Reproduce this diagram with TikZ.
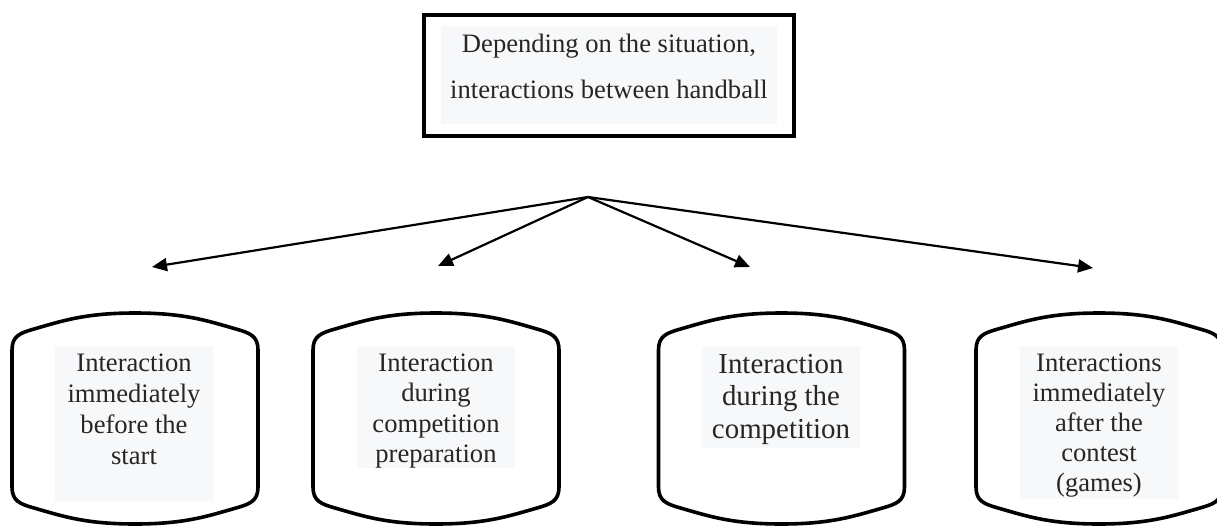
\documentclass[tikz,border=0pt]{standalone}
\usepackage{fontspec}
\setmainfont{Liberation Serif}
\usetikzlibrary{arrows.meta}
\definecolor{shade}{HTML}{F7F8FA}
\definecolor{ink}{HTML}{262626}
\tikzset{
  drum/.pic={
    \path[draw=black, line width=3.6pt, line join=round]
      (-123,350) .. controls (-123,336) and (-115,333) .. (-101,329)
      .. controls (-73,321) and (-50,313) .. (0,313)
      .. controls (50,313) and (73,321) .. (101,329)
      .. controls (115,333) and (123,336) .. (123,350)
      -- (123,487)
      .. controls (123,501) and (115,504) .. (101,508)
      .. controls (73,516) and (50,524) .. (0,524)
      .. controls (-50,524) and (-73,516) .. (-101,508)
      .. controls (-115,504) and (-123,501) .. (-123,487) -- cycle;
  },
  backing/.style={fill=shade, draw=none, inner sep=0pt, anchor=north west},
  words/.style={anchor=base, inner sep=0pt, text=ink},
  link/.style={line width=2.2pt, -{Triangle[length=15pt,width=13pt]}}
}
\newcommand{\txt}[3]{\parbox[t]{400pt}{\centering\fontsize{#1}{#2}\selectfont #3}}
\begin{document}
\begin{tikzpicture}[x=1pt,y=-1pt]
\useasboundingbox (0,0) rectangle (1217,525);
% top box
\node[draw=black, line width=4pt, minimum width=370pt, minimum height=121pt, inner sep=0pt] (top) at (609,75.5) {};
\node[backing, minimum width=336pt, minimum height=98pt] (topbg) at (441,26) {};
\node[words] (toptext) at (609,52) {\txt{26.6}{46}{Depending on the situation,\\interactions between handball}};
% cylinders
\pic (c1) at (135,0) {drum};
\pic (c2) at (436,0) {drum};
\pic (c3) at (781.5,0) {drum};
\pic (c4) at (1099,0) {drum};
% shading behind the texts
\node[backing, minimum width=158pt, minimum height=155pt] (bg1) at (55,346) {};
\node[backing, minimum width=158pt, minimum height=122pt] (bg2) at (357,346) {};
\node[backing, minimum width=158pt, minimum height=102pt] (bg3) at (702,346) {};
\node[backing, minimum width=158pt, minimum height=153pt] (bg4) at (1020,346) {};
% texts
\node[words] (t1) at (134,371) {\txt{26.6}{31}{Interaction\\immediately\\before the\\start}};
\node[words] (t2) at (436,371) {\txt{26.6}{30.5}{Interaction\\during\\competition\\preparation}};
\node[words] (t3) at (781,373) {\txt{28.9}{32.5}{Interaction\\during the\\competition}};
\node[words] (t4) at (1099,371) {\txt{26.6}{30}{Interactions\\immediately\\after the\\contest\\(games)}};
% connectors
\coordinate (apex) at (588,197);
\coordinate (e1) at (152,267);
\coordinate (e2) at (438,266);
\coordinate (e3) at (750,267);
\coordinate (e4) at (1093,268);
\draw[link] (apex) -- (e1);
\draw[link] (apex) -- (e2);
\draw[link] (apex) -- (e3);
\draw[link] (apex) -- (e4);
\end{tikzpicture}
\end{document}
